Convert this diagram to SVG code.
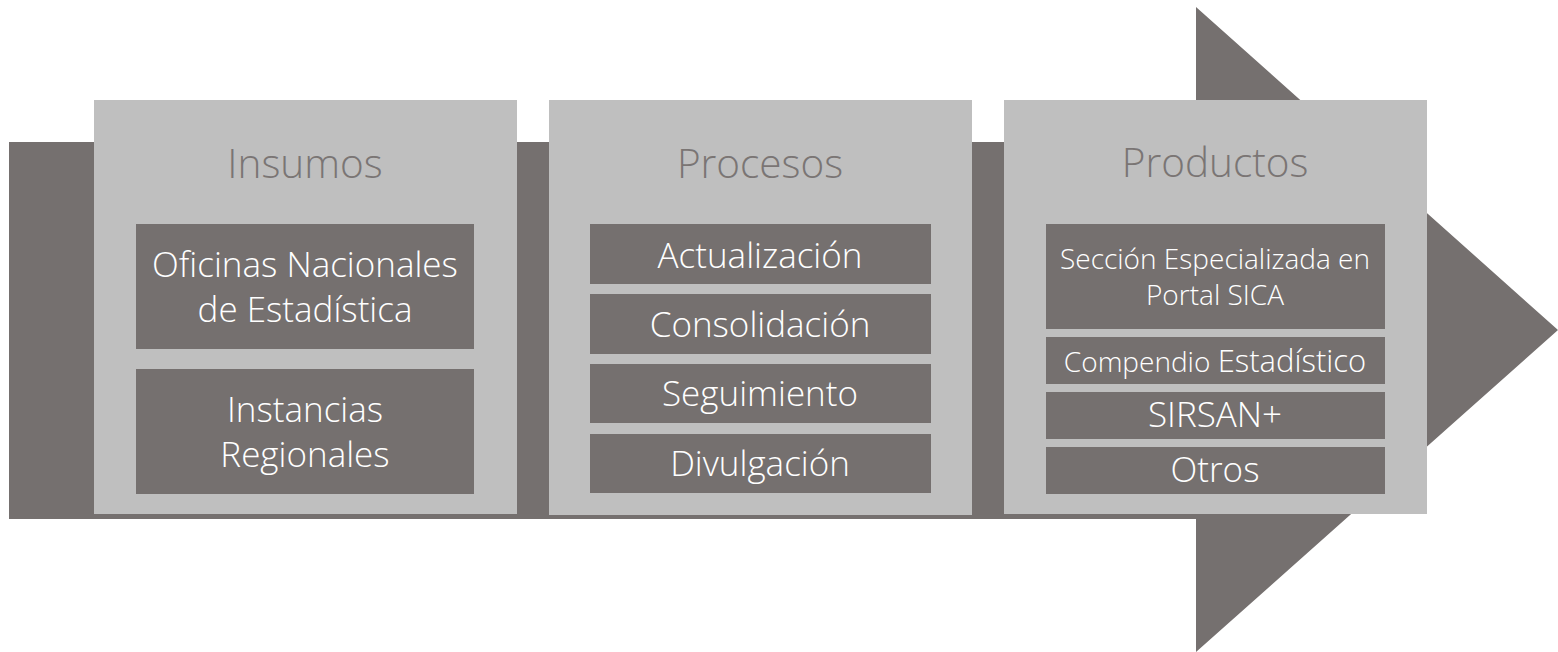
<svg xmlns="http://www.w3.org/2000/svg" width="1558" height="652" viewBox="0 0 1558 652">
<style>
.arrow{fill:#75706f}
.panel{fill:#bfbfbf}
.box{fill:#75706f}
.hdr{font-family:"Open Sans","Liberation Sans",sans-serif;font-weight:300;font-size:40.5px;fill:#7a7574;text-anchor:middle}
.lbl{font-family:"Open Sans","Liberation Sans",sans-serif;font-weight:300;font-size:35px;fill:#ffffff;text-anchor:middle}
.sm{font-size:28px}
</style>
<rect width="1558" height="652" fill="#ffffff"/>
<g id="arrow">
<polygon class="arrow" points="9,142 1196,142 1196,7 1558,330 1196,652 1196,519 9,519"/>
</g>
<g id="insumos">
<rect class="panel" x="94" y="100" width="423" height="414"/>
<text class="hdr" x="305" y="178">Insumos</text>
</g>
<g id="oficinas">
<rect class="box" x="136" y="224" width="338" height="125"/>
<text class="lbl" x="305" y="277">Oficinas Nacionales</text>
<text class="lbl" x="305" y="322">de Estadística</text>
</g>
<g id="instancias">
<rect class="box" x="136" y="369" width="338" height="125"/>
<text class="lbl" x="305" y="422">Instancias</text>
<text class="lbl" x="305" y="467">Regionales</text>
</g>
<g id="procesos">
<rect class="panel" x="549" y="100" width="423" height="415"/>
<text class="hdr" x="760" y="178">Procesos</text>
</g>
<g id="actualizacion">
<rect class="box" x="590" y="224" width="341" height="60"/>
<text class="lbl" x="760" y="268">Actualización</text>
</g>
<g id="consolidacion">
<rect class="box" x="590" y="294" width="341" height="60"/>
<text class="lbl" x="760" y="337">Consolidación</text>
</g>
<g id="seguimiento">
<rect class="box" x="590" y="364" width="341" height="59"/>
<text class="lbl" x="760" y="406">Seguimiento</text>
</g>
<g id="divulgacion">
<rect class="box" x="590" y="434" width="341" height="59"/>
<text class="lbl" x="760" y="476">Divulgación</text>
</g>
<g id="productos">
<rect class="panel" x="1004" y="100" width="423" height="414"/>
<text class="hdr" x="1215" y="177">Productos</text>
</g>
<g id="seccion">
<rect class="box" x="1046" y="224" width="339" height="105"/>
<text class="lbl sm" x="1215" y="269">Sección Especializada en</text>
<text class="lbl sm" x="1215" y="305">Portal SICA</text>
</g>
<g id="compendio">
<rect class="box" x="1046" y="337" width="339" height="47"/>
<text class="lbl" x="1215" y="372"><tspan class="sm">Compendio </tspan><tspan font-size="31px">Estadístico</tspan></text>
</g>
<g id="sirsan">
<rect class="box" x="1046" y="392" width="339" height="47"/>
<text class="lbl" x="1215" y="427" font-size="32px">SIRSAN+</text>
</g>
<g id="otros">
<rect class="box" x="1046" y="447" width="339" height="47"/>
<text class="lbl" x="1215" y="482" font-size="32px">Otros</text>
</g>
<g id="connectors"/>
</svg>
